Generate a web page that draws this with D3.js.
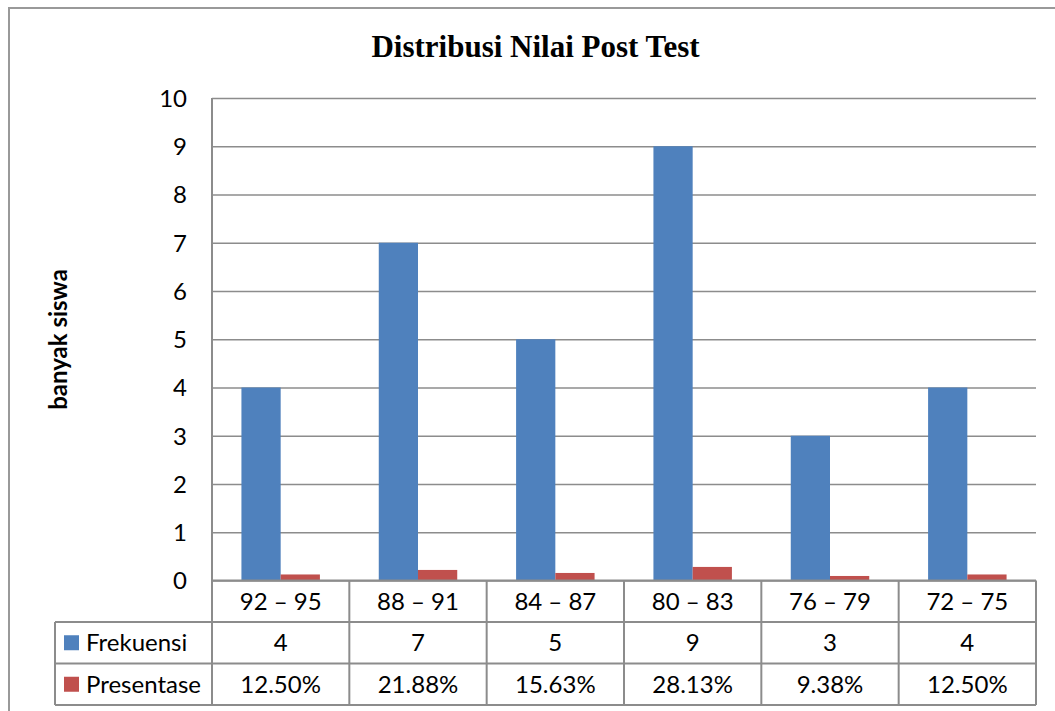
<!DOCTYPE html>
<html>
<head>
<meta charset="utf-8">
<script src="https://cdn.jsdelivr.net/npm/d3@7"></script>
<style>
  html, body { margin: 0; padding: 0; background: #fff; }
  svg { display: block; }
  text { font-family: Lato, "Open Sans", sans-serif; fill: #000; }
</style>
</head>
<body>
<svg id="chart" width="1055" height="711"></svg>
<script>
const categories = ["92 – 95", "88 – 91", "84 – 87", "80 – 83", "76 – 79", "72 – 75"];
const frekuensi = [4, 7, 5, 9, 3, 4];
const presentase = [12.50, 21.88, 15.63, 28.13, 9.38, 12.50];
const seriesNames = ["Frekuensi", "Presentase"];
const yTicks = [0, 1, 2, 3, 4, 5, 6, 7, 8, 9, 10];
const titleText = "Distribusi Nilai Post Test";
const yLabel = "banyak siswa";

const colors = { Frekuensi: "#4F81BD", Presentase: "#C0504D" };
const lineColor = "#8c8c8c";

const svg = d3.select("#chart");

const plot = { left: 212, right: 1036, top: 98, bottom: 580.5 };
const rowH = 41.5;
const legendLeft = 55;

// outer border
svg.append("rect")
  .attr("x", 9).attr("y", 8).attr("width", 1200).attr("height", 900)
  .attr("fill", "none").attr("stroke", "#999").attr("stroke-width", 2);

// title
svg.append("text")
  .attr("x", 535.5).attr("y", 57)
  .attr("text-anchor", "middle")
  .style("font-family", "'Liberation Serif', 'Times New Roman', serif")
  .style("font-weight", "bold")
  .style("font-size", "31px")
  .text(titleText);

const x = d3.scaleBand().domain(categories).range([plot.left, plot.right]).paddingInner(0).paddingOuter(0);
const xs = d3.scaleBand().domain(seriesNames).range([0, x.bandwidth()]).paddingInner(0).paddingOuter(0.75);
const y = d3.scaleLinear().domain([0, 10]).range([plot.bottom, plot.top]);

// gridlines + y axis
const yAxis = d3.axisLeft(y).tickValues(yTicks).tickSize(-(plot.right - plot.left)).tickPadding(25).tickFormat(d3.format("d"));
const gy = svg.append("g").attr("transform", `translate(${plot.left},0)`).call(yAxis);
gy.select(".domain").remove();
gy.selectAll(".tick line").attr("stroke", lineColor).attr("stroke-width", 1.6);
gy.selectAll(".tick text").style("font-size", "24px").style("font-family", "Lato, 'Open Sans', sans-serif").attr("fill", "#000").attr("dy", "0.35em");

// y axis title
svg.append("text")
  .attr("transform", "translate(67,339.5) rotate(-90)")
  .attr("text-anchor", "middle")
  .style("font-weight", "bold")
  .style("font-size", "24px")
  .text(yLabel);

// bars
const rows = categories.map((c, i) => ({ cat: c, Frekuensi: frekuensi[i], Presentase: presentase[i] / 100 }));
const gBars = svg.append("g");
rows.forEach(r => {
  seriesNames.forEach(s => {
    gBars.append("rect")
      .attr("x", x(r.cat) + xs(s))
      .attr("y", y(r[s]))
      .attr("width", xs.bandwidth())
      .attr("height", y(0) - y(r[s]))
      .attr("fill", colors[s]);
  });
});

// table
const gT = svg.append("g");
const rowTop = [plot.bottom, plot.bottom + rowH, plot.bottom + 2 * rowH];
const tableBottom = plot.bottom + 3 * rowH;
const line = (x1, y1, x2, y2) => gT.append("line").attr("x1", x1).attr("y1", y1).attr("x2", x2).attr("y2", y2)
  .attr("stroke", lineColor).attr("stroke-width", 2);

// vertical axis line (through table)
line(plot.left, plot.top, plot.left, tableBottom);
// horizontal lines
line(plot.left, rowTop[0], plot.right, rowTop[0]);
line(legendLeft, rowTop[1], plot.right, rowTop[1]);
line(legendLeft, rowTop[2], plot.right, rowTop[2]);
line(legendLeft, tableBottom, plot.right, tableBottom);
// vertical lines
line(legendLeft, rowTop[1], legendLeft, tableBottom);
categories.forEach(c => line(x(c) + x.bandwidth(), rowTop[0], x(c) + x.bandwidth(), tableBottom));

// category labels
categories.forEach(c => {
  gT.append("text").attr("x", x(c) + x.bandwidth() / 2).attr("y", rowTop[0] + rowH / 2)
    .attr("dy", "0.35em").attr("text-anchor", "middle").style("font-size", "24px").text(c);
});
// series rows
const rowValues = [frekuensi.map(v => String(v)), presentase.map(v => v.toFixed(2) + "%")];
seriesNames.forEach((s, si) => {
  const top = rowTop[si + 1];
  gT.append("rect").attr("x", 64).attr("y", top + rowH / 2 - 7.5).attr("width", 15).attr("height", 15).attr("fill", colors[s]);
  gT.append("text").attr("x", 86).attr("y", top + rowH / 2).attr("dy", "0.35em").style("font-size", "24px").text(s);
  categories.forEach((c, i) => {
    gT.append("text").attr("x", x(c) + x.bandwidth() / 2).attr("y", top + rowH / 2)
      .attr("dy", "0.35em").attr("text-anchor", "middle").style("font-size", "24px").text(rowValues[si][i]);
  });
});
</script>
</body>
</html>
